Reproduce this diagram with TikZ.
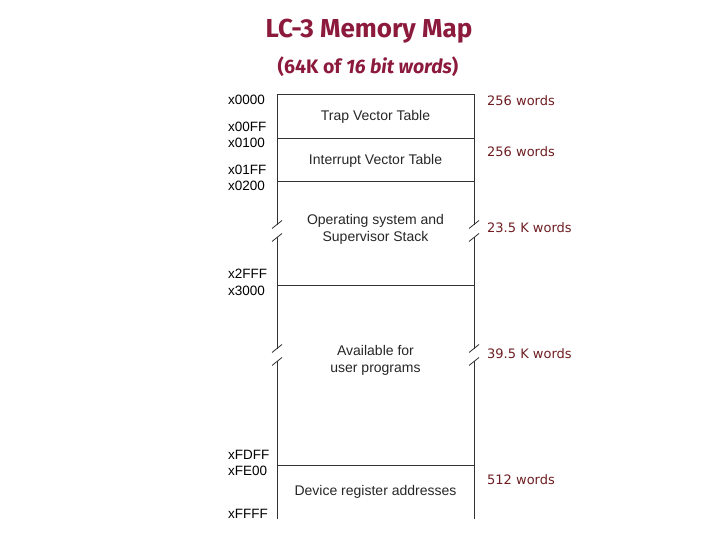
\documentclass[tikz,border=0pt]{standalone}
\usepackage{fontspec}
\setmainfont{Liberation Sans}
\newfontfamily\titlefont{Fira Sans}
\newfontfamily\sizefont{DejaVu Sans}
\definecolor{titlered}{HTML}{8C1A3C}
\definecolor{wordred}{HTML}{6E1E22}

\begin{document}
\begin{tikzpicture}[
				x=1pt, y=-1pt,
				title style/.style={
					text=titlered,
					font=\titlefont\bfseries\fontsize{26}{30}\selectfont,
					inner sep=0pt
				},
				addr style/.style={
					anchor=west,
					inner sep=0pt,
					font=\fontsize{13.5}{15}\selectfont
				},
				region style/.style={
					align=center,
					inner sep=0pt,
					text=black!85,
					font=\fontsize{14}{17}\selectfont
				},
				size style/.style={
					anchor=west,
					inner sep=0pt,
					text=wordred,
					font=\sizefont\fontsize{13}{15}\selectfont
				},
				frame/.style={draw=black!80, line width=0.9pt}
				]
				
				\useasboundingbox (0,0) rectangle (720,540);
				
				% title
				\node[title style] (title) at (369,31) {LC-3 Memory Map};
				\node[title style, font=\titlefont\bfseries\fontsize{19.5}{23}\selectfont] (subtitle) at (368,67)
				{(64K of \textit{16 bit words})};
				
				% memory frame
				\draw[frame] (277,519) -- (277,94) -- (474,94) -- (474,519);
				\foreach \ly in {138,181,285,465}
				\draw[frame] (277,\ly) -- (474,\ly);
				
				% breaks
				\foreach \bx in {277,474}
				\foreach \by in {231,355}{
					\fill[white] (\bx-2,\by-6) rectangle (\bx+2,\by+6);
					\draw[black!80, line width=0.8pt] (\bx-5,\by-2.5) -- (\bx+5,\by-10.5);
					\draw[black!80, line width=0.8pt] (\bx-5,\by+10.5) -- (\bx+5,\by+2.5);
				}
				
				% regions
				\node[region style] (trap) at (375.5,117) {Trap Vector Table};
				\node[region style] (interrupt) at (375.5,161) {Interrupt Vector Table};
				\node[region style] (os) at (375.5,229) {Operating system and\\Supervisor Stack};
				\node[region style] (user) at (375.5,360) {Available for\\user programs};
				\node[region style] (device) at (375.5,492) {Device register addresses};
				
				% addresses
				\node[addr style] (a0000) at (228,100) {x0000};
				\node[addr style] (a00FF) at (228,127) {x00FF};
				\node[addr style] (a0100) at (228,143) {x0100};
				\node[addr style] (a01FF) at (228,170) {x01FF};
				\node[addr style] (a0200) at (228,186) {x0200};
				\node[addr style] (a2FFF) at (228,274) {x2FFF};
				\node[addr style] (a3000) at (228,291) {x3000};
				\node[addr style] (aFDFF) at (228,455) {xFDFF};
				\node[addr style] (aFE00) at (228,471) {xFE00};
				\node[addr style] (aFFFF) at (228,514) {xFFFF};
				
				% sizes
				\node[size style] (s1) at (487,101) {256 words};
				\node[size style] (s2) at (487,152) {256 words};
				\node[size style] (s3) at (487,228) {23.5 K words};
				\node[size style] (s4) at (487,354) {39.5 K words};
				\node[size style] (s5) at (487,480) {512 words};
				
			\end{tikzpicture}
\end{document}
